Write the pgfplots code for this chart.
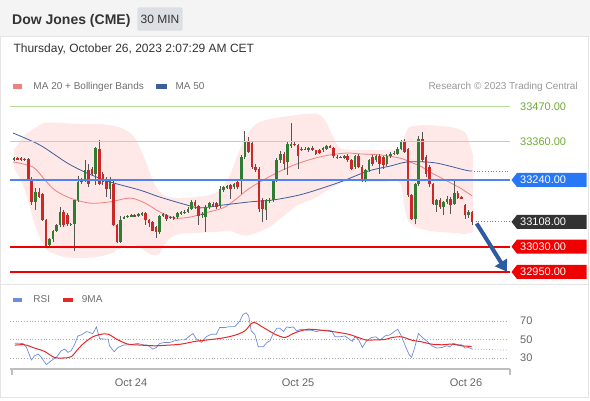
\documentclass[border=0pt]{standalone}
\usepackage{fontspec}
\setmainfont{Liberation Sans}
\usepackage{pgfplots}
\pgfplotsset{compat=1.18}
\usepackage{pgfplotstable}
\usepgfplotslibrary{fillbetween}
\usetikzlibrary{arrows.meta}
\definecolor{upc}{RGB}{46,125,50}
\definecolor{dnc}{RGB}{205,40,40}
\definecolor{wick}{RGB}{85,85,85}
\definecolor{band}{RGB}{255,232,232}
\definecolor{ma20}{RGB}{240,128,128}
\definecolor{ma50}{RGB}{60,95,155}
\definecolor{lvgreen}{RGB}{185,218,155}
\definecolor{txgreen}{RGB}{110,170,50}
\definecolor{lvblue}{RGB}{80,130,240}
\definecolor{boxblue}{RGB}{40,120,245}
\definecolor{boxdark}{RGB}{51,51,51}
\definecolor{lvred}{RGB}{240,0,0}
\definecolor{arrowblue}{RGB}{45,90,160}
\definecolor{rsiblue}{RGB}{110,140,220}
\definecolor{rsired}{RGB}{230,40,40}
\definecolor{framec}{RGB}{228,228,228}
\definecolor{hdr}{RGB}{244,244,244}
\definecolor{boxgray}{RGB}{220,223,227}
\definecolor{txt}{RGB}{51,51,51}
\definecolor{lgtxt}{RGB}{110,110,110}
\definecolor{rtxt}{RGB}{150,150,150}
\definecolor{axisgray}{RGB}{190,190,190}
\definecolor{dotgray}{RGB}{170,170,170}
\definecolor{ticktxt}{RGB}{100,100,100}
\newcommand\fs[1]{\fontsize{#1}{#1}\selectfont}
\newcommand\pbox[3]{%
  \fill[#2] ([xshift=1.5pt]#1) -- ++(5.5,7) -- ++(69.5,0) -- ++(0,-14) -- ++(-69.5,0) -- cycle;
  \node[anchor=west, inner sep=0, text=white, font=\fs{11}] at ([xshift=10pt]#1) {#3};}

\pgfplotstableread{
i o h l c
1 33305 33312 33300 33308
2 33308 33313 33302 33306
3 33308 33313 33300 33303
4 33303 33310 33299 33307
5 33307 33310 33242 33244
6 33244 33248 33160 33171
7 33171 33215 33146 33202
8 33202 33215 33183 33188
9 33195 33200 33110 33113
10 33113 33116 33028 33031
11 33034 33058 33030 33055
12 33055 33083 33045 33080
13 33080 33101 33075 33097
14 33097 33155 33092 33139
15 33139 33144 33092 33097
16 33129 33135 33095 33100
17 33100 33106 33095 33102
18 33102 33176 33016 33176
19 33176 33254 33170 33234
20 33234 33246 33228 33244
21 33239 33304 33234 33270
22 33270 33291 33218 33228
23 33275 33280 33255 33260
24 33260 33345 33223 33341
25 33338 33365 33225 33228
26 33260 33265 33223 33234
27 33244 33250 33186 33213
28 33213 33249 33181 33244
29 33228 33240 33095 33097
30 33097 33100 33042 33045
31 33045 33125 33040 33113
32 33120 33128 33116 33123
33 33123 33130 33120 33127
34 33127 33132 33122 33129
35 33128 33133 33122 33127
36 33127 33137 33124 33132
37 33132 33138 33128 33134
38 33136 33139 33097 33113
39 33113 33118 33092 33104
40 33108 33112 33078 33079
41 33092 33096 33058 33076
42 33076 33131 33070 33127
43 33129 33136 33124 33132
44 33129 33133 33112 33118
45 33121 33127 33116 33123
46 33122 33126 33114 33120
47 33123 33140 33118 33136
48 33135 33141 33130 33137
49 33137 33146 33132 33139
50 33139 33155 33135 33150
51 33150 33176 33146 33171
52 33171 33176 33150 33157
53 33157 33160 33097 33126
54 33129 33140 33120 33134
55 33123 33160 33076 33155
56 33155 33170 33150 33167
57 33163 33170 33155 33160
58 33167 33171 33150 33155
59 33157 33220 33152 33213
60 33207 33222 33202 33218
61 33218 33224 33213 33220
62 33223 33228 33181 33213
63 33218 33232 33212 33228
64 33234 33240 33213 33218
65 33244 33318 33195 33312
66 33312 33396 33305 33362
67 33362 33375 33325 33328
68 33356 33360 33275 33281
69 33281 33290 33265 33270
70 33275 33280 33139 33150
71 33176 33182 33108 33150
72 33144 33180 33113 33176
73 33173 33182 33168 33178
74 33176 33244 33170 33239
75 33239 33308 33234 33302
76 33302 33330 33295 33323
77 33323 33328 33270 33291
78 33296 33360 33255 33354
79 33349 33419 33340 33354
80 33354 33362 33348 33352
81 33349 33354 33275 33317
82 33335 33344 33330 33338
83 33338 33344 33333 33337
84 33333 33345 33328 33340
85 33341 33346 33330 33333
86 33333 33336 33318 33323
87 33335 33338 33322 33325
88 33333 33344 33328 33341
89 33338 33349 33334 33346
90 33346 33350 33340 33344
91 33341 33345 33310 33314
92 33313 33318 33307 33311
93 33312 33316 33308 33310
94 33311 33318 33307 33314
95 33317 33321 33298 33302
96 33302 33306 33270 33275
97 33281 33320 33276 33317
98 33317 33322 33278 33281
99 33281 33286 33234 33244
100 33244 33275 33234 33270
101 33270 33306 33265 33302
102 33312 33318 33285 33291
103 33302 33320 33296 33317
104 33317 33322 33260 33291
105 33312 33316 33275 33286
106 33291 33322 33285 33317
107 33314 33328 33310 33323
108 33323 33332 33318 33326
109 33323 33345 33318 33338
110 33338 33365 33333 33359
111 33364 33368 33325 33328
112 33338 33342 33188 33192
113 33192 33196 33113 33118
114 33118 33232 33102 33228
115 33228 33380 33220 33370
116 33370 33391 33296 33302
117 33312 33318 33250 33260
118 33281 33286 33218 33228
119 33228 33232 33160 33165
120 33160 33180 33139 33176
121 33176 33182 33150 33155
122 33155 33175 33129 33171
123 33171 33190 33165 33181
124 33181 33186 33134 33160
125 33165 33239 33160 33199
126 33199 33204 33180 33184
127 33186 33190 33182 33183
128 33160 33165 33118 33129
129 33129 33144 33120 33139
130 33139 33142 33097 33108
}\candles

\begin{document}
\begin{tikzpicture}[x=1pt,y=1pt]
\path (0,0) rectangle (590,400);
\fill[hdr] (0,363) rectangle (590,400);
\draw[framec, line width=1pt] (0.5,3) rectangle (588.5,363);
\draw[framec, line width=1pt] (0.5,116) -- (588.5,116);
\node[anchor=base west, inner sep=0, text=txt, font=\fs{14}\bfseries] at (12,375.5) {Dow Jones (CME)};
\fill[boxgray, rounded corners=2pt] (137.3,369.3) rectangle (182.7,392.7);
\node[anchor=center, inner sep=0, text=txt, font=\fs{12}] at (160,381) {30 MIN};
\node[anchor=base west, inner sep=0, text=txt, font=\fs{12}] at (13.3,347) {Thursday, October 26, 2023 2:07:29 AM CET};
\fill[ma20] (13.3,311.3) rectangle (22.3,315.8);
\node[anchor=base west, inner sep=0, text=lgtxt, font=\fs{10}] at (33.3,310.7) {MA 20 + Bollinger Bands};
\fill[ma50] (156,311.3) rectangle (167,315.8);
\node[anchor=base west, inner sep=0, text=lgtxt, font=\fs{10}] at (175.3,310.7) {MA 50};
\node[anchor=base east, inner sep=0, text=rtxt, font=\fs{10}] at (578,310.7) {Research © 2023 Trading Central};
\fill[rsiblue] (13.3,98.3) rectangle (22.3,101.7);
\node[anchor=base west, inner sep=0, text=lgtxt, font=\fs{10}] at (33.3,97.3) {RSI};
\fill[rsired] (62.7,98.3) rectangle (72.5,101.7);
\node[anchor=base west, inner sep=0, text=lgtxt, font=\fs{10}] at (81.7,97.3) {9MA};

\begin{axis}[at={(10pt,118.5pt)}, anchor=south west, scale only axis,
  width=500pt, height=180.85pt, xmin=-0.14, xmax=140.7, ymin=32920, ymax=33490,
  axis lines=none, ticks=none]
\addplot[name path=up, draw=none, smooth] coordinates {(0.99,33335) (4.08,33382) (6.9,33404) (9.7,33420) (13.9,33420) (19.6,33416) (25.2,33416) (29.4,33410) (32.3,33398) (35.1,33372) (37.9,33303) (40.7,33224) (43.5,33190) (47.7,33183) (52,33186) (56.2,33193) (59,33208) (61.8,33256) (64.6,33335) (67.5,33398) (70.3,33423) (74.5,33435) (78.7,33442) (83,33448) (86.6,33448) (88.6,33429) (90.6,33382) (92.8,33341) (97,33335) (101.3,33335) (105.5,33335) (109.7,33341) (111.1,33382) (112.5,33407) (116.8,33413) (121,33410) (125.2,33404) (128.2,33388) (129.4,33350) (130.3,33319)};
\addplot[name path=lo, draw=none, smooth] coordinates {(0.99,33278) (4.08,33208) (6.9,33098) (9.7,33026) (12.5,33007) (15.4,32997) (19.6,32994) (23.8,32997) (28,33007) (32.3,33032) (35.1,33035) (38.7,33010) (41.5,33004) (44.4,33051) (47.7,33070) (52,33073) (57.6,33076) (61.8,33079) (64.9,33067) (67.5,33067) (72.5,33089) (76.2,33120) (81,33161) (85.8,33183) (90.3,33215) (95.1,33237) (99.9,33234) (105.5,33234) (109.7,33231) (111.4,33130) (113.1,33098) (116.8,33082) (121,33076) (125.2,33073) (128,33070) (130.3,33076)};
\addplot[band] fill between[of=up and lo];
\addplot[ma20, line width=0.8pt, smooth] coordinates {(0.7,33297) (6.3,33281) (9.7,33240) (12.5,33208) (16.8,33183) (22.4,33167) (28,33171) (33.7,33183) (37.9,33167) (42.1,33139) (46.3,33120) (50.6,33123) (54.8,33136) (59.9,33152) (63.2,33177) (66.6,33208) (70.3,33234) (73.9,33256) (77.9,33278) (81.5,33294) (85.8,33309) (90,33319) (94.8,33325) (98.5,33322) (104.1,33319) (109.7,33309) (112.5,33297) (115.4,33284) (118.2,33265) (122.4,33240) (126.6,33215) (130,33190)};
\addplot[ma50, line width=0.8pt, smooth] coordinates {(0.7,33388) (8.3,33350) (15.9,33294) (21.5,33262) (28,33234) (36.5,33208) (42.1,33186) (49.7,33161) (53.4,33152) (59.9,33161) (67.5,33171) (74,33177) (81.5,33193) (88,33215) (93.7,33237) (100.7,33268) (107,33284) (112,33297) (119.6,33294) (128.1,33271) (130,33268)};
\addplot[draw=none, mark=none, error bars/.cd, y dir=both, y explicit, error mark=none,
  error bar style={wick, line width=0.7pt}]
  table[x=i, y expr={(\thisrow{h}+\thisrow{l})/2}, y error expr={(\thisrow{h}-\thisrow{l})/2}] {\candles};
\addplot[draw=none, mark=none, error bars/.cd, y dir=both, y explicit, error mark=none,
  error bar style={upc, line width=2.6pt}]
  table[x=i, y expr={\thisrow{c}>=\thisrow{o} ? (\thisrow{o}+\thisrow{c})/2 : nan}, y error expr={max(abs(\thisrow{c}-\thisrow{o})/2,1.6)}] {\candles};
\addplot[draw=none, mark=none, error bars/.cd, y dir=both, y explicit, error mark=none,
  error bar style={dnc, line width=2.6pt}]
  table[x=i, y expr={\thisrow{c}<\thisrow{o} ? (\thisrow{o}+\thisrow{c})/2 : nan}, y error expr={max(abs(\thisrow{c}-\thisrow{o})/2,1.6)}] {\candles};
\addplot[lvgreen, line width=1pt] coordinates {(-0.14,33470) (140.7,33470)};
\addplot[lvgreen, line width=1pt] coordinates {(-0.14,33360) (140.7,33360)};
\addplot[lvblue, line width=1.6pt] coordinates {(-0.14,33240) (140.7,33240)};
\addplot[lvred, line width=2pt] coordinates {(-0.14,33030) (140.7,33030)};
\addplot[lvred, line width=2pt] coordinates {(-0.14,32950) (140.7,32950)};
\addplot[gray, dotted, line width=0.8pt] coordinates {(131,33108) (140.7,33108)};
\addplot[gray, dotted, line width=0.8pt] coordinates {(130.5,33268) (140.7,33268)};
\draw[arrowblue, line width=4pt, -{Triangle[length=11pt,width=14pt]}] (axis cs:131.3,33103) -- (axis cs:139.8,32951);
\coordinate (L1) at (axis cs:140.7,33470);
\coordinate (L2) at (axis cs:140.7,33360);
\coordinate (L3) at (axis cs:140.7,33240);
\coordinate (L4) at (axis cs:140.7,33108);
\coordinate (L5) at (axis cs:140.7,33030);
\coordinate (L6) at (axis cs:140.7,32950);
\end{axis}
\node[anchor=west, inner sep=0, text=txgreen, font=\fs{11}] at ([xshift=10pt]L1) {33470.00};
\node[anchor=west, inner sep=0, text=txgreen, font=\fs{11}] at ([xshift=10pt]L2) {33360.00};
\pbox{L3}{boxblue}{33240.00}
\pbox{L4}{boxdark}{33108.00}
\pbox{L5}{lvred}{33030.00}
\pbox{L6}{lvred}{32950.00}

\begin{axis}[at={(10pt,30.9pt)}, anchor=south west, scale only axis,
  width=500pt, height=64.75pt, xmin=-0.14, xmax=140.7, ymin=18, ymax=88,
  axis y line=none, axis x line*=bottom, x axis line style={axisgray, line width=1.6pt, -},
  xtick={33.94,81,128.3}, xticklabels={Oct 24,Oct 25,Oct 26}, major tick length=0pt,
  xticklabel style={font=\fs{11}, text=ticktxt, yshift=-6pt}, clip=false]
\addplot[dotgray, dotted, line width=0.8pt] coordinates {(-0.14,70) (140.1,70)};
\addplot[dotgray, dotted, line width=0.8pt] coordinates {(-0.14,50) (140.1,50)};
\addplot[dotgray, dotted, line width=0.8pt] coordinates {(-0.14,30) (140.1,30)};
\addplot[rsiblue, line width=0.7pt] coordinates {(1.2,46) (3.5,45.7) (4.5,41.4) (5.9,27.9) (6.8,32.5) (7.8,34.3) (8.7,30.7) (10.1,22.9) (11.5,27.1) (12.9,30.7) (14.3,37.9) (15.3,39.6) (16.2,36.1) (17.1,37.9) (18.1,45) (19,53.9) (20,55) (21.4,58.6) (22.3,57.5) (23.2,56.4) (24.2,63.6) (25.1,51) (26.5,50.4) (27.5,50.4) (27.9,43.2) (29.2,36.8) (30.3,41.4) (31.7,43.9) (33.1,44.3) (34.5,45) (35.9,45.7) (37.3,44.3) (38.7,43.9) (40.1,39.6) (41.1,41.4) (42,45.7) (43.4,46.8) (44.8,46.8) (46.2,48.6) (47.7,49.6) (49.1,49.6) (50.5,53.9) (51.4,56.4) (52.4,50.4) (53.8,46.8) (55.2,53.2) (56.6,55.7) (58,55.7) (58.9,62.9) (60.3,62.9) (61.7,63.9) (63.2,63.9) (64.6,70) (65.5,77.1) (66.4,78.9) (67.1,75.4) (67.8,59.3) (68.8,55.7) (69.8,42.1) (71.2,42.1) (72.2,46.8) (73.1,48.6) (74,56.4) (75,62.1) (75.9,62.1) (76.9,58.6) (77.8,63.6) (78.7,62.9) (79.7,63.6) (80.6,59.3) (82,61.1) (83.4,60) (84.8,60) (86.2,58.6) (87.7,60) (89.1,60) (90.5,59.3) (91.4,52.9) (92.8,52.9) (94.2,53.9) (95.4,50.4) (96.3,47.9) (97,52.9) (98,50.4) (99.1,41.4) (100.3,48.6) (101.7,52.1) (102.9,52.9) (104.1,49.3) (105.5,53.9) (106.9,55) (108.1,58.6) (109.1,61.1) (110.2,52.9) (111.3,42.1) (112.3,33.6) (113,30.7) (113.9,42.1) (114.9,56.4) (115.8,52.9) (117.2,48.6) (118.6,43.2) (120.1,40.7) (121.5,41.4) (122.9,43.2) (123.8,42.1) (124.7,45.7) (126.2,44.3) (127.1,44.3) (128,40.7) (129,41.4) (130.1,39.6)};
\addplot[rsiblue!70, dotted, line width=0.8pt] coordinates {(130.1,39.6) (140,38.6)};
\addplot[rsired, line width=1pt, smooth] coordinates {(1.2,43.9) (4,44.3) (6.8,40.7) (9.6,37.1) (12.4,30.5) (14.8,30) (17.1,31.4) (19,39.6) (20.9,46.8) (23.2,52.9) (25.6,55.7) (27.5,55.7) (30.3,49.6) (33.1,45) (36.9,43.9) (40.6,43.2) (44.4,43.9) (48.1,45) (51.9,47.9) (55.6,49.6) (59.4,51.4) (63.2,54.6) (66,59.3) (67.8,67) (68.9,68.2) (71.2,63) (74.5,55.7) (77.3,52.1) (79.2,55.7) (81.1,58.6) (83.9,61.1) (87.7,60) (91.4,58.2) (95.2,55.7) (98,52.1) (100.3,49.3) (102.7,49.6) (105.5,50) (107.4,52.1) (110.2,52.9) (113,49.3) (115.8,47.5) (118.6,45) (121.5,44.3) (124.3,45) (127.1,43.2) (129.9,42.5)};
\draw[axisgray, line width=1.6pt] (axis cs:0.34,18) -- (axis cs:0.34,12);
\draw[axisgray, line width=1.6pt] (axis cs:140.7,18) -- (axis cs:140.7,12);
\coordinate (R70) at (axis cs:140.7,70);
\coordinate (R50) at (axis cs:140.7,50);
\coordinate (R30) at (axis cs:140.7,30);
\end{axis}
\node[anchor=west, inner sep=0, text=ticktxt, font=\fs{11}] at ([xshift=10pt]R70) {70};
\node[anchor=west, inner sep=0, text=ticktxt, font=\fs{11}] at ([xshift=10pt]R50) {50};
\node[anchor=west, inner sep=0, text=ticktxt, font=\fs{11}] at ([xshift=10pt]R30) {30};
\end{tikzpicture}
\end{document}
